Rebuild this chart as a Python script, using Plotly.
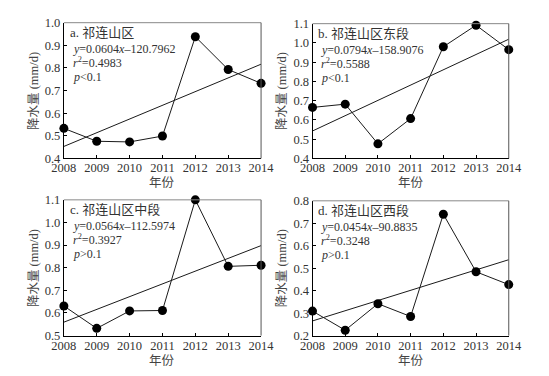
import numpy as np
import plotly.graph_objects as go

years = [2008, 2009, 2010, 2011, 2012, 2013, 2014]
precip_all = [0.533, 0.476, 0.473, 0.499, 0.938, 0.793, 0.732]
precip_east = [0.665, 0.682, 0.476, 0.607, 0.980, 1.092, 0.965]
precip_mid = [0.631, 0.532, 0.609, 0.611, 1.100, 0.806, 0.811]
precip_west = [0.309, 0.224, 0.342, 0.285, 0.740, 0.484, 0.427]

panel_titles = ["a. 祁连山区", "b. 祁连山区东段", "c. 祁连山区中段", "d. 祁连山区西段"]
equations = ["y=0.0604x\u2013120.7962", "y=0.0794x\u2013158.9076",
             "y=0.0564x\u2013112.5974", "y=0.0454x\u201390.8835"]
r2_values = ["0.4983", "0.5588", "0.3927", "0.3248"]
p_texts = ["&lt;0.1", "&lt;0.1", "&gt;0.1", "&gt;0.1"]
y_ranges = [[0.4, 1.0], [0.4, 1.1], [0.5, 1.1], [0.2, 0.8]]

series = [precip_all, precip_east, precip_mid, precip_west]

W, H = 549, 376
# plot area pixel boxes (left, right, top, bottom)
boxes = [(45, 252, 8, 149), (306, 512, 9, 149), (45, 252, 192, 333), (306, 512, 193, 333)]

FONT = "Liberation Serif"
CJK = "Liberation Serif, Noto Sans CJK SC"

fig = go.Figure()
annotations = []
shapes = []

for i, (vals, box) in enumerate(zip(series, boxes)):
    n = i + 1
    xa = "x" if n == 1 else f"x{n}"
    ya = "y" if n == 1 else f"y{n}"
    l, r, t, b = box
    xdom = [l / W, r / W]
    ydom = [1 - b / H, 1 - t / H]

    coef = np.polyfit(years, vals, 1)
    trend = np.polyval(coef, [years[0], years[-1]])

    fig.add_trace(go.Scatter(x=[years[0], years[-1]], y=list(trend), mode="lines",
                             line=dict(color="#1a1a1a", width=1), xaxis=xa, yaxis=ya,
                             showlegend=False, cliponaxis=False, hoverinfo="skip"))
    fig.add_trace(go.Scatter(x=years, y=vals, mode="lines+markers",
                             line=dict(color="#1a1a1a", width=1),
                             marker=dict(color="black", size=9),
                             xaxis=xa, yaxis=ya, showlegend=False, cliponaxis=False))

    axis_common = dict(showline=True, linecolor="black", linewidth=1, mirror=False,
                       ticks="inside", ticklen=3, tickcolor="black", showgrid=False,
                       zeroline=False, tickfont=dict(family=FONT, size=12.5, color="#333"))
    fig.layout[("xaxis" if n == 1 else f"xaxis{n}")] = dict(
        domain=xdom, range=[2008, 2014], tickvals=years, anchor=ya, ticklabelstandoff=-2,
        **axis_common)
    fig.layout[("yaxis" if n == 1 else f"yaxis{n}")] = dict(
        domain=ydom, range=y_ranges[i], dtick=0.1, tickformat=".1f", anchor=xa,
        ticklabelstandoff=0, **axis_common)

    # top and right frame lines
    shapes.append(dict(type="line", xref=f"{xa} domain", yref=f"{ya} domain",
                       x0=0, x1=1, y0=1, y1=1, line=dict(color="#888", width=1)))
    shapes.append(dict(type="line", xref=f"{xa} domain", yref=f"{ya} domain",
                       x0=1, x1=1, y0=0, y1=1, line=dict(color="#555", width=1)))

    # panel texts
    annotations.append(dict(text=panel_titles[i], x=(l + 4) / W, y=1 - (t + 10) / H,
                            xref="paper", yref="paper", xanchor="left", yanchor="middle",
                            showarrow=False, font=dict(family=CJK, size=13, color="#333")))
    eq = equations[i].replace("y=", "<i>y</i>=").replace("x\u2013", "<i>x</i>\u2013")
    lines = [eq, f"<i>r</i><sup>2</sup>={r2_values[i]}", f"<i>p</i>{p_texts[i]}"]
    for k, txt in enumerate(lines):
        annotations.append(dict(text=txt, x=(l + 7) / W, y=1 - (t + 27 + 14.5 * k) / H,
                                xref="paper", yref="paper", xanchor="left", yanchor="middle",
                                showarrow=False, font=dict(family=FONT, size=12, color="#333")))
    # axis titles
    annotations.append(dict(text="年份", x=(l + r) / 2 / W, y=1 - (b + 26) / H, xref="paper",
                            yref="paper", xanchor="center", yanchor="middle", showarrow=False,
                            font=dict(family=CJK, size=12.5, color="#444")))
    annotations.append(dict(text="降水量 (mm/d)", x=(l - 32) / W, y=1 - (t + b) / 2 / H,
                            xref="paper", yref="paper", xanchor="center", yanchor="middle",
                            textangle=-90, showarrow=False,
                            font=dict(family=CJK, size=12.5, color="#444")))

fig.update_layout(width=W, height=H, margin=dict(l=0, r=0, t=0, b=0),
                  paper_bgcolor="white", plot_bgcolor="white",
                  annotations=annotations, shapes=shapes,
                  font=dict(family=CJK, color="#333"))

fig.write_html("out.html")
